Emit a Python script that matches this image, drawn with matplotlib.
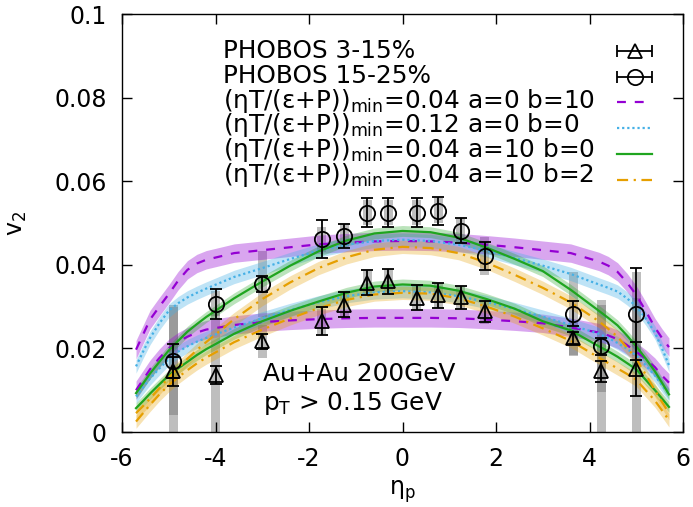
import numpy as np
import matplotlib
matplotlib.use('Agg')
import matplotlib.pyplot as plt
from matplotlib.container import ErrorbarContainer
from matplotlib.legend_handler import HandlerErrorbar
from matplotlib.ticker import FuncFormatter

plt.rcParams['font.family'] = ['DejaVu Sans']
plt.rcParams['font.size'] = 17
plt.rcParams['axes.unicode_minus'] = False
plt.rcParams['mathtext.default'] = 'regular'

# PHOBOS data
eta_data = [-4.9, -4.0, -3.0, -1.73, -1.25, -0.75, -0.3, 0.3, 0.77, 1.25, 1.76, 3.65, 4.25, 5.0]
v2_3_15 = [0.0145, 0.0137, 0.0217, 0.0265, 0.0305, 0.0357, 0.0361, 0.0321, 0.0327, 0.0322, 0.0289, 0.0225, 0.0145, 0.0150]
stat_3_15 = [0.0035, 0.0022, 0.0018, 0.0033, 0.003, 0.003, 0.003, 0.003, 0.003, 0.0028, 0.0025, 0.0015, 0.0025, 0.0065]
sys_3_15 = [0.016, 0.015, 0.004, 0.003, 0.003, 0.003, 0.003, 0.003, 0.003, 0.0028, 0.003, 0.004, 0.016, 0.017]
v2_15_25 = [0.0170, 0.0307, 0.0354, 0.0461, 0.0469, 0.0525, 0.0525, 0.0525, 0.0529, 0.0481, 0.0421, 0.0283, 0.0205, 0.0282]
stat_15_25 = [0.004, 0.0036, 0.002, 0.0045, 0.0028, 0.0034, 0.0034, 0.0034, 0.0033, 0.003, 0.0034, 0.003, 0.002, 0.011]
sys_15_25 = [0.013, 0.003, 0.008, 0.003, 0.003, 0.003, 0.003, 0.003, 0.003, 0.003, 0.0045, 0.010, 0.011, 0.010]

# hydro curves (hi = 15-25%, lo = 3-15%)
eta_model = [-5.7, -5.55, -5.4, -5.2, -5.0, -4.8, -4.6, -4.4, -4.2, -3.6, -3.0, -2.4, -1.8, -1.2, -0.6, 0.0,
             0.6, 1.2, 1.8, 2.4, 3.0, 3.6, 4.2, 4.4, 4.6, 4.8, 5.0, 5.2, 5.4, 5.55, 5.7]
purple_hi = [0.0197, 0.0233, 0.0269, 0.0300, 0.0330, 0.0362, 0.0388, 0.0403, 0.0412, 0.0428, 0.0435, 0.0442,
             0.0449, 0.0453, 0.0456, 0.0457, 0.0456, 0.0453, 0.0448, 0.0442, 0.0435, 0.0428, 0.0408, 0.0398,
             0.0383, 0.0358, 0.0328, 0.0290, 0.0250, 0.0225, 0.0203]
purple_lo = [0.0100, 0.0125, 0.0150, 0.0177, 0.0200, 0.0216, 0.0228, 0.0238, 0.0245, 0.0256, 0.0263, 0.0267,
             0.0270, 0.0272, 0.0273, 0.0273, 0.0273, 0.0272, 0.0269, 0.0265, 0.0260, 0.0250, 0.0238, 0.0231,
             0.0222, 0.0208, 0.0192, 0.0175, 0.0155, 0.0135, 0.0118]
cyan_hi = [0.0157, 0.0192, 0.0225, 0.0260, 0.0290, 0.0308, 0.0322, 0.0333, 0.0343, 0.0371, 0.0392, 0.0414,
           0.0434, 0.0448, 0.0457, 0.0460, 0.0457, 0.0448, 0.0434, 0.0416, 0.0398, 0.0378, 0.0353, 0.0345,
           0.0336, 0.0320, 0.0301, 0.0272, 0.0238, 0.0200, 0.0160]
cyan_lo = [0.0085, 0.0107, 0.0128, 0.0152, 0.0175, 0.0192, 0.0205, 0.0216, 0.0225, 0.0250, 0.0272, 0.0292,
           0.0310, 0.0325, 0.0334, 0.0337, 0.0334, 0.0325, 0.0311, 0.0294, 0.0276, 0.0256, 0.0235, 0.0225,
           0.0213, 0.0199, 0.0183, 0.0160, 0.0135, 0.0112, 0.0090]
green_hi = [0.0093, 0.0116, 0.0140, 0.0168, 0.0195, 0.0218, 0.0240, 0.0258, 0.0275, 0.0320, 0.0360, 0.0398,
            0.0432, 0.0458, 0.0475, 0.0481, 0.0478, 0.0465, 0.0441, 0.0414, 0.0385, 0.0340, 0.0290, 0.0273,
            0.0255, 0.0231, 0.0205, 0.0176, 0.0145, 0.0118, 0.0090]
green_lo = [0.0057, 0.0074, 0.0092, 0.0114, 0.0135, 0.0152, 0.0168, 0.0184, 0.0198, 0.0235, 0.0265, 0.0290,
            0.0312, 0.0333, 0.0348, 0.0353, 0.0350, 0.0338, 0.0318, 0.0295, 0.0265, 0.0243, 0.0205, 0.0193,
            0.0180, 0.0165, 0.0150, 0.0125, 0.0100, 0.0080, 0.0060]
orange_hi = [0.0045, 0.0062, 0.0080, 0.0105, 0.0130, 0.0153, 0.0175, 0.0196, 0.0215, 0.0270, 0.0318, 0.0358,
             0.0392, 0.0418, 0.0436, 0.0443, 0.0440, 0.0428, 0.0405, 0.0376, 0.0345, 0.0310, 0.0265, 0.0247,
             0.0228, 0.0202, 0.0175, 0.0138, 0.0100, 0.0072, 0.0045]
orange_lo = [0.0025, 0.0045, 0.0065, 0.0090, 0.0112, 0.0131, 0.0148, 0.0164, 0.0178, 0.0215, 0.0245, 0.0272,
             0.0296, 0.0316, 0.0329, 0.0333, 0.0331, 0.0320, 0.0300, 0.0276, 0.0248, 0.0218, 0.0178, 0.0165,
             0.0152, 0.0139, 0.0125, 0.0100, 0.0075, 0.0052, 0.0028]
band_halfwidth = [0.0022, 0.0016, 0.0013, 0.0016]

legend_labels = ['PHOBOS 3-15%', 'PHOBOS 15-25%',
                 r'(ηT/(ε+P))$_{min}$=0.04 a=0 b=10',
                 r'(ηT/(ε+P))$_{min}$=0.12 a=0 b=0',
                 r'(ηT/(ε+P))$_{min}$=0.04 a=10 b=0',
                 r'(ηT/(ε+P))$_{min}$=0.04 a=10 b=2']

fig = plt.figure(figsize=(6.93, 5.07), dpi=100)
ax = fig.add_axes([122/693, 75/507, 561/693, 418/507])

# systematic errors
for v, s in [(v2_3_15, sys_3_15), (v2_15_25, sys_15_25)]:
    v = np.array(v)
    s = np.array(s)
    ax.bar(eta_data, 2*s, bottom=v - s, width=0.19, color='#707070', alpha=0.45,
           linewidth=0, zorder=1)

models = [(purple_hi, purple_lo, '#9400D3', (0, (4, 4)), 0.35),
          (cyan_hi, cyan_lo, '#45B0E6', (0, (1, 1.3)), 0.35),
          (green_hi, green_lo, '#1FA51F', '-', 0.3),
          (orange_hi, orange_lo, '#E69F00', (0, (5, 2.5, 1, 2.5)), 0.3)]
model_lines = []
for k, (hi, lo, col, ls, al) in enumerate(models):
    for curve in (hi, lo):
        c = np.array(curve)
        ax.fill_between(eta_model, c - band_halfwidth[k], c + band_halfwidth[k],
                        color=col, alpha=al, linewidth=0, zorder=2 + k*0.1)
        ln, = ax.plot(eta_model, c, color=col, ls=ls, lw=1.6, zorder=3 + k*0.1)
    model_lines.append(ln)

ebkw = dict(mfc='none', mec='k', mew=1.3, ecolor='k', elinewidth=1.3, capsize=4, capthick=1.3)
ax.errorbar(eta_data, v2_3_15, yerr=stat_3_15, fmt='^', ms=10, zorder=5, **ebkw)
ax.errorbar(eta_data, v2_15_25, yerr=stat_15_25, fmt='o', ms=11, zorder=5, **ebkw)

# legend samples drawn like gnuplot keys (horizontal bars)
h_tri = ax.errorbar([np.nan], [np.nan], xerr=[1], fmt='^', ms=10, **ebkw)
h_circ = ax.errorbar([np.nan], [np.nan], xerr=[1], fmt='o', ms=11, **ebkw)
ax.legend([h_tri, h_circ] + model_lines, [''] * 6, loc='upper left',
          bbox_to_anchor=((617 - 122)/561, (432 - 40)/418), frameon=False,
          borderpad=0, borderaxespad=0, handlelength=1.5, handletextpad=0,
          labelspacing=0.076, fontsize=17,
          handler_map={ErrorbarContainer: HandlerErrorbar(xerr_size=0.75)})

for i, lab in enumerate(legend_labels):
    ax.text((223 - 122)/561, (432 - (58 + 24.8*i))/418, lab, transform=ax.transAxes,
            ha='left', va='baseline', fontsize=17.8)

ax.text(-2.98, 0.0121, 'Au+Au 200GeV', fontsize=17.8)
ax.text(-2.98, 0.0053, r'p$_T$ > 0.15 GeV', fontsize=17.8)

ax.set_xlim(-6, 6)
ax.set_ylim(0, 0.1)
ax.set_xticks(np.arange(-6, 7, 2))
ax.set_yticks(np.arange(0, 0.101, 0.02))
ax.yaxis.set_major_formatter(FuncFormatter(lambda v, p: '%g' % round(v, 3)))
ax.tick_params(direction='in', top=True, right=True, length=7, width=1.0, pad=11, labelsize=17)
for sp in ax.spines.values():
    sp.set_linewidth(1.0)

ax.set_xlabel(r'η$_p$', fontsize=17)
ax.set_ylabel(r'v$_2$', fontsize=17)
ax.xaxis.set_label_coords(0.5, -0.11)
ax.yaxis.set_label_coords(-0.1665, 0.5)

fig.savefig('out.png', dpi=100)
